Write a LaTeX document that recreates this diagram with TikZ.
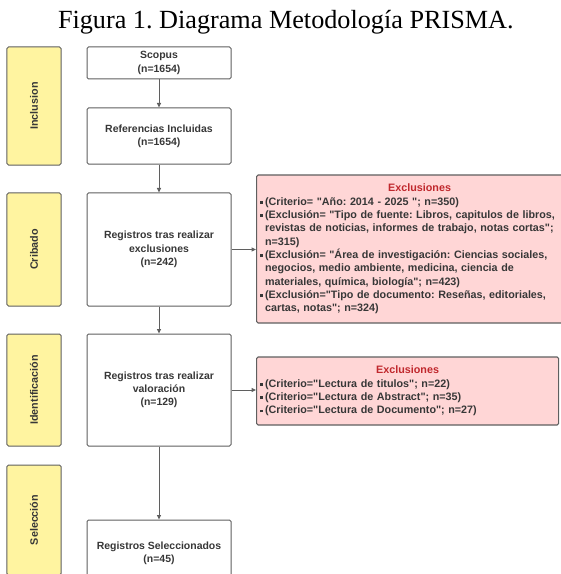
\documentclass[tikz,border=0pt]{standalone}
\usepackage{fontspec}
\setmainfont{Liberation Serif}
\newfontfamily\diagfont{Liberation Sans}
\usetikzlibrary{arrows.meta}

\definecolor{phasefill}{RGB}{255,244,160}
\definecolor{exclfill}{RGB}{255,214,214}
\definecolor{boxline}{RGB}{95,95,95}
\definecolor{exclred}{RGB}{192,40,45}
\definecolor{textgray}{RGB}{55,55,55}

\newcommand{\exbullet}{\raisebox{0.25ex}{\rule{2.8bp}{2.8bp}}\hspace{2.2bp}}
\newcommand{\exindent}{\hphantom{\exbullet}}

\begin{document}
\frenchspacing
\begin{tikzpicture}[x=1bp, y=-1bp,
    phase/.style={draw=boxline, fill=phasefill, line width=1bp, rounded corners=1.5bp,
        rotate=90, minimum height=54bp, inner sep=0pt, text=textgray,
        font=\diagfont\bfseries\fontsize{10.8}{13.3}\selectfont},
    stage/.style={draw=boxline, fill=white, line width=1bp, rounded corners=1.5bp,
        minimum width=144bp, inner sep=0pt, align=center, text=textgray,
        font=\diagfont\bfseries\fontsize{10.5}{13.3}\selectfont},
    excl/.style={draw=boxline, fill=exclfill, line width=1.2bp, rounded corners=1.5bp,
        anchor=west, inner xsep=3.5bp, inner ysep=0pt, align=left, text=textgray,
        font=\diagfont\bfseries\fontsize{10.8}{13.4}\selectfont},
    flow/.style={draw=boxline, line width=1bp, -{Triangle[length=4.5bp,width=4bp]}}]

    \useasboundingbox (0,0) rectangle (561,574);
    \clip (0,0) rectangle (561,574);

    \node[anchor=base] (title) at (285.8,29)
        {\fontsize{26.3}{30}\selectfont Figura 1. Diagrama Metodología PRISMA.};

    % phases
    \node[phase, minimum width=118bp] (inclusion) at (34,106) {Inclusion};
    \node[phase, minimum width=113bp] (cribado) at (34,249.5) {Cribado};
    \node[phase, minimum width=112bp] (identificacion) at (34,390) {Identificación};
    \node[phase, minimum width=110bp] (seleccion) at (34,520) {Selección};

    % stages
    \node[stage, minimum height=32bp] (scopus) at (159,63) {Scopus\\(n=1654)};
    \node[stage, minimum height=56bp] (incluidas) at (159,136) {Referencias Incluidas\\(n=1654)};
    \node[stage, minimum height=113bp] (exclusiones) at (159,249.5)
        {Registros tras realizar\\exclusiones\\(n=242)};
    \node[stage, minimum height=112bp] (valoracion) at (159,390)
        {Registros tras realizar\\valoración\\(n=129)};
    \node[stage, minimum height=66bp] (seleccionados) at (159,553)
        {Registros Seleccionados\\(n=45)};

    % exclusions
    \node[excl, minimum width=326bp, minimum height=148bp, text width=319bp] (criba) at (256,249)
        {\makebox[\hsize]{\color{exclred}Exclusiones}\\
        \exbullet(Criterio= "Año: 2014 - 2025 "; n=350)\\
        \exbullet(Exclusión= "Tipo de fuente: Libros, capitulos de libros,\\
        \exindent revistas de noticias, informes de trabajo, notas cortas";\\
        \exindent n=315)\\
        \exbullet(Exclusión= "Área de investigación: Ciencias sociales,\\
        \exindent negocios, medio ambiente, medicina, ciencia de\\
        \exindent materiales, química, biología"; n=423)\\
        \exbullet(Exclusión="Tipo de documento: Reseñas, editoriales,\\
        \exindent cartas, notas"; n=324)};
    \node[excl, minimum width=302bp, minimum height=68bp, text width=295bp] (lectura) at (256,391)
        {\makebox[\hsize]{\color{exclred}Exclusiones}\\
        \exbullet(Criterio="Lectura de titulos"; n=22)\\
        \exbullet(Criterio="Lectura de Abstract"; n=35)\\
        \exbullet(Criterio="Lectura de Documento"; n=27)};

    \draw[flow] (scopus) -- (incluidas);
    \draw[flow] (incluidas) -- (exclusiones);
    \draw[flow] (exclusiones) -- (valoracion);
    \draw[flow] (valoracion) -- (seleccionados);
    \draw[flow] (exclusiones.east) -- (exclusiones.east -| criba.west);
    \draw[flow] (valoracion.east) -- (valoracion.east -| lectura.west);
\end{tikzpicture}
\end{document}
